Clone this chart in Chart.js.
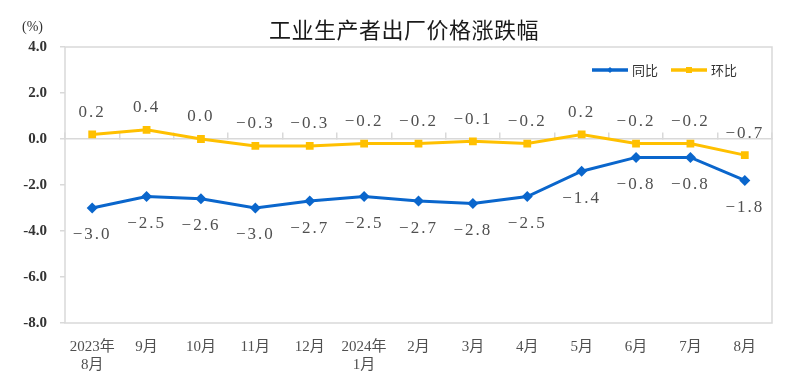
<!DOCTYPE html>
<html>
<head>
<meta charset="utf-8">
<script src="https://cdn.jsdelivr.net/npm/chart.js@4/dist/chart.umd.min.js"></script>
<style>
  html, body { margin: 0; padding: 0; background: #fff; }
  canvas { display: block; }
</style>
</head>
<body>
<canvas id="chart" width="800" height="387"></canvas>
<script>
const months = [
  ['2023年', '8月'], '9月', '10月', '11月', '12月', ['2024年', '1月'],
  '2月', '3月', '4月', '5月', '6月', '7月', '8月'
]
const yoy = [-3.0, -2.5, -2.6, -3.0, -2.7, -2.5, -2.7, -2.8, -2.5, -1.4, -0.8, -0.8, -1.8]
const mom = [0.2, 0.4, 0.0, -0.3, -0.3, -0.2, -0.2, -0.1, -0.2, 0.2, -0.2, -0.2, -0.7]
const yTicks = [-8, -6, -4, -2, 0, 2, 4]

const title = '工业生产者出厂价格涨跌幅'
const unit = '(%)'

const BLUE = '#0A66CC'
const YELLOW = '#FFC000'
const EDGE = '#D9D9D9'
const TEXT = '#505050'
const serif = '"Liberation Serif", "Noto Sans CJK SC", serif'
const sans = '"Noto Sans CJK SC", sans-serif'

const decor = {
  id: 'decor',
  beforeDatasetsDraw(chart) {
    const { ctx, chartArea: a } = chart
    ctx.save()
    ctx.strokeStyle = EDGE
    ctx.lineWidth = 1.5
    ctx.strokeRect(a.left, a.top, a.right - a.left, a.bottom - a.top)
    ctx.restore()
  },
  afterDatasetsDraw(chart) {
    const { ctx } = chart
    ctx.save()
    ctx.font = '17px ' + serif
    ctx.fillStyle = TEXT
    ctx.textAlign = 'center'
    ctx.textBaseline = 'middle'
    try { ctx.letterSpacing = '2px' } catch (e) {}
    chart.data.datasets.forEach((ds, i) => {
      const meta = chart.getDatasetMeta(i)
      meta.data.forEach((pt, j) => {
        const txt = ds.data[j].toFixed(1).replace('-', '−')
        ctx.fillText(txt, pt.x, pt.y + ds.labelOffset)
      })
    })
    ctx.restore()
  },
  afterDraw(chart) {
    const { ctx } = chart
    ctx.save()
    // title
    ctx.fillStyle = '#1a1a1a'
    ctx.font = '22px ' + sans
    ctx.textAlign = 'center'
    ctx.textBaseline = 'middle'
    try { ctx.letterSpacing = '0.5px' } catch (e) {}
    ctx.fillText(title, 404, 30)
    try { ctx.letterSpacing = '0px' } catch (e) {}
    // unit
    ctx.fillStyle = '#333'
    ctx.font = '14px ' + serif
    ctx.textAlign = 'left'
    ctx.fillText(unit, 22, 27)
    // legend
    let x = 592
    const y = 70
    ctx.font = '13px ' + sans
    chart.data.datasets.forEach((ds) => {
      ctx.strokeStyle = ds.borderColor
      ctx.lineWidth = 3.5
      ctx.beginPath()
      ctx.moveTo(x, y)
      ctx.lineTo(x + 36, y)
      ctx.stroke()
      ctx.fillStyle = ds.borderColor
      if (ds.pointStyle === 'rect') {
        ctx.fillRect(x + 15, y - 3, 6, 6)
      } else {
        ctx.beginPath()
        ctx.moveTo(x + 18, y - 3)
        ctx.lineTo(x + 21, y)
        ctx.lineTo(x + 18, y + 3)
        ctx.lineTo(x + 15, y)
        ctx.fill()
      }
      ctx.fillStyle = '#333'
      ctx.fillText(ds.label, x + 40, y)
      x += 79
    })
    ctx.restore()
  }
}

new Chart(document.getElementById('chart'), {
  type: 'line',
  data: {
    labels: months,
    datasets: [
      {
        label: '同比',
        data: yoy,
        borderColor: BLUE,
        backgroundColor: BLUE,
        borderWidth: 3,
        pointStyle: 'rectRot',
        pointRadius: 5.5,
        pointBorderWidth: 0,
        tension: 0,
        labelOffset: 27,
      },
      {
        label: '环比',
        data: mom,
        borderColor: YELLOW,
        backgroundColor: YELLOW,
        borderWidth: 3,
        pointStyle: 'rect',
        pointRadius: 5.5,
        pointBorderWidth: 0,
        tension: 0,
        labelOffset: -22,
      },
    ],
  },
  options: {
    responsive: false,
    animation: false,
    layout: { padding: { top: 47, right: 28, left: 0, bottom: 0 } },
    plugins: {
      legend: { display: false },
      title: { display: false },
      tooltip: { enabled: false },
    },
    scales: {
      x: {
        offset: true,
        grid: { display: false },
        border: { display: false },
        ticks: {
          color: TEXT,
          font: { family: serif, size: 15 },
          padding: 7,
          maxRotation: 0,
          autoSkip: false,
        },
        afterFit(scale) { scale.height = 64 },
      },
      x2: {
        type: 'category',
        labels: months,
        position: { y: 0 },
        offset: true,
        grid: { offset: true, drawOnChartArea: false, drawTicks: true, tickLength: -7, color: EDGE, lineWidth: 1.5 },
        border: { display: true, color: EDGE, width: 1.5 },
        ticks: { display: false },
      },
      y: {
        min: -8,
        max: 4,
        afterBuildTicks(scale) { scale.ticks = yTicks.map(v => ({ value: v })) },
        grid: { drawOnChartArea: false, drawTicks: true, tickLength: 5, color: EDGE, lineWidth: 1.5 },
        border: { display: false },
        ticks: {
          color: '#333',
          font: { family: serif, size: 15, weight: 'bold' },
          padding: 13,
          callback: v => v.toFixed(1),
        },
        afterFit(scale) { scale.width = 65 },
      },
    },
  },
  plugins: [decor],
})
</script>
</body>
</html>
